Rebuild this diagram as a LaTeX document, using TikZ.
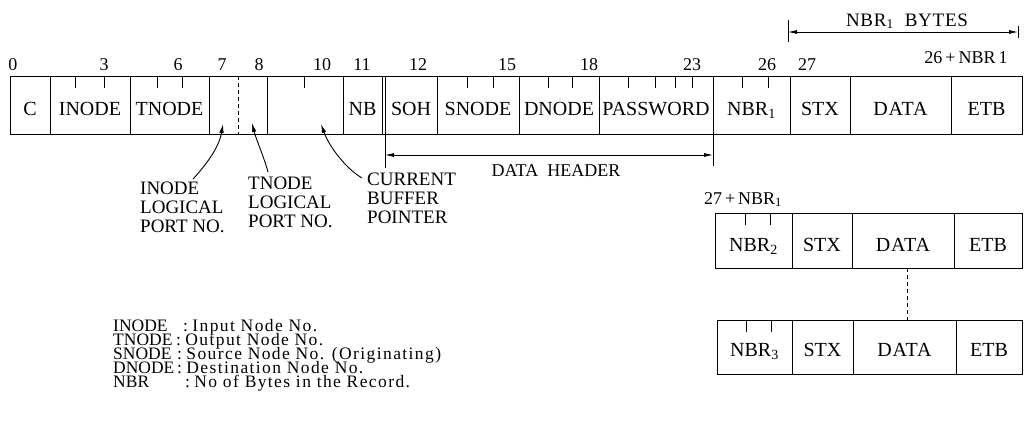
\documentclass[tikz,border=0pt]{standalone}
\usepackage{fontspec}
\setmainfont{Liberation Serif}
\newfontfamily\spacedserif[LetterSpace=8]{Liberation Serif}
\newfontfamily\slightserif[LetterSpace=4]{Liberation Serif}
\usetikzlibrary{arrows.meta}
\newcommand\tightlns{\lineskiplimit=-100pt\relax\lineskip=0pt\relax}
\begin{document}
\begin{tikzpicture}[x=1pt,y=-1pt,
  frame/.style={line width=0.9pt},
  tickln/.style={line width=0.8pt},
  celltxt/.style={font=\fontsize{20}{22}\selectfont, inner sep=0pt, anchor=base},
  numtxt/.style={font=\fontsize{18}{20}\selectfont, inner sep=0pt, anchor=base},
  calltxt/.style={font=\fontsize{19}{19}\selectfont\tightlns, align=left, anchor=north west, inner sep=0pt},
  legendtxt/.style={font=\fontsize{17.5}{14}\selectfont\tightlns, align=left, anchor=north west, inner sep=0pt},
  dimarrow/.style={line width=0.8pt, {Latex[length=9pt,width=4pt]}-{Latex[length=9pt,width=4pt]}},
  pointer/.style={line width=0.9pt, -{Latex[length=9pt,width=4.5pt]}},
]
\useasboundingbox (0,0) rectangle (1024,424);

% ---------- main record row ----------
\draw[frame] (10,76) rectangle (1022,134);
\foreach \x in {50,130,209,267,343,382,385,437,519,599,713,790,850,951}
  \draw[frame] (\x,76) -- (\x,134);
\draw[frame, dash pattern=on 4pt off 3pt] (238,76) -- (238,134);
\foreach \x in {75,104,157,182,304,467,493,548,572,628,655,675,692,742,768}
  \draw[tickln] (\x,76) -- (\x,88);

\node[celltxt] (c)     at (30,115)    {C};
\node[celltxt] (inode) at (90,115)    {INODE};
\node[celltxt] (tnode) at (169.5,115) {TNODE};
\node[celltxt] (nb)    at (362.5,115) {NB};
\node[celltxt] (soh)   at (411,115)   {SOH};
\node[celltxt] (snode) at (478,115)   {SNODE};
\node[celltxt] (dnode) at (559,115)   {DNODE};
\node[celltxt] (pwd)   at (656,115)   {PASSWORD};
\node[celltxt] (nbra)  at (751.5,115) {NBR\textsubscript{1}};
\node[celltxt] (stxa)  at (820,115)   {STX};
\node[celltxt] (dataa) at (900.5,115) {\slightserif DATA};
\node[celltxt] (etba)  at (986.5,115) {ETB};

% byte offsets
\node[numtxt] (n0)  at (13,70)  {0};
\node[numtxt] (n3)  at (104,70) {3};
\node[numtxt] (n6)  at (178,70) {6};
\node[numtxt] (n7)  at (222,70) {7};
\node[numtxt] (n8)  at (259,70) {8};
\node[numtxt] (n10) at (322,70) {10};
\node[numtxt] (n11) at (362,70) {11};
\node[numtxt] (n12) at (418,70) {12};
\node[numtxt] (n15) at (507,70) {15};
\node[numtxt] (n18) at (589,70) {18};
\node[numtxt] (n23) at (692,70) {23};
\node[numtxt] (n26) at (767,70) {26};
\node[numtxt] (n27) at (807,70) {27};
\node[numtxt] (nend) at (966,63) {26\,+\,NBR\,1};

% NBR1 BYTES dimension
\coordinate (ba) at (788,32);
\coordinate (bb) at (1018,32);
\draw[tickln] (788,20) -- (788,42);
\draw[tickln] (1018,26) -- (1018,38);
\draw[dimarrow] (ba) -- (bb);
\node[numtxt, font=\fontsize{19}{20}\slightserif] (bytes) at (907,26) {NBR\textsubscript{1}\ \ BYTES};

% DATA HEADER dimension
\draw[tickln] (385,134) -- (385,168);
\draw[tickln] (713,134) -- (713,166);
\coordinate (ha) at (385,155);
\coordinate (hb) at (713,155);
\draw[dimarrow] (ha) -- (hb);
\node[numtxt] (dh) at (556,176) {DATA\ \ HEADER};

% call-outs
\node[calltxt] (lblin)  at (140,182) {INODE\\LOGICAL\\PORT NO.};
\node[calltxt] (lbltn)  at (248,177) {TNODE\\LOGICAL\\PORT NO.};
\node[calltxt] (lblcbp) at (367,173) {CURRENT\\BUFFER\\POINTER};
\coordinate (sin) at (193,179);
\coordinate (tin) at (223,124);
\coordinate (stn) at (268,172);
\coordinate (ttn) at (252,123);
\coordinate (scb) at (362,178);
\coordinate (tcb) at (321,124);
\draw[pointer] (sin) .. controls (205,166) and (219,148) .. (tin);
\draw[pointer] (stn) .. controls (264,157) and (256,139) .. (ttn);
\draw[pointer] (scb) .. controls (345,168) and (329,146) .. (tcb);

% second record
\node[numtxt] (n27b) at (743,204) {27\,+\,NBR\textsubscript{1}};
\draw[frame] (715,213) rectangle (1022,268);
\foreach \x in {792,852,954}
  \draw[frame] (\x,213) -- (\x,268);
\foreach \x in {745,770}
  \draw[tickln] (\x,213) -- (\x,225);
\node[celltxt] (nbrb)  at (753.5,251) {NBR\textsubscript{2}};
\node[celltxt] (stxb)  at (822,251)   {STX};
\node[celltxt] (datab) at (903,251)   {\slightserif DATA};
\node[celltxt] (etbb)  at (988,251)   {ETB};

% third record
\draw[frame] (717,320) rectangle (1022,374);
\foreach \x in {792,853,956}
  \draw[frame] (\x,320) -- (\x,374);
\foreach \x in {746,771}
  \draw[tickln] (\x,320) -- (\x,332);
\node[celltxt] (nbrc)  at (754.5,356) {NBR\textsubscript{3}};
\node[celltxt] (stxc)  at (822.5,356) {STX};
\node[celltxt] (datac) at (904.5,356) {\slightserif DATA};
\node[celltxt] (etbc)  at (989,356)   {ETB};

\coordinate (da) at (907,268);
\coordinate (db) at (907,320);
\draw[tickln, dash pattern=on 4pt off 3pt] (da) -- (db);

% legend
\node[legendtxt] (legend) at (113,319) {%
\makebox[70pt][l]{INODE}:\ {\spacedserif Input Node No.}\\
\makebox[63pt][l]{TNODE}:\ {\spacedserif Output Node No.}\\
\makebox[64pt][l]{SNODE}:\ {\spacedserif Source Node No. (Originating)}\\
\makebox[64pt][l]{DNODE}:\ {\spacedserif Destination Node No.}\\
\makebox[72pt][l]{NBR}:\ {\spacedserif No of Bytes in the Record.}};
\end{tikzpicture}
\end{document}
